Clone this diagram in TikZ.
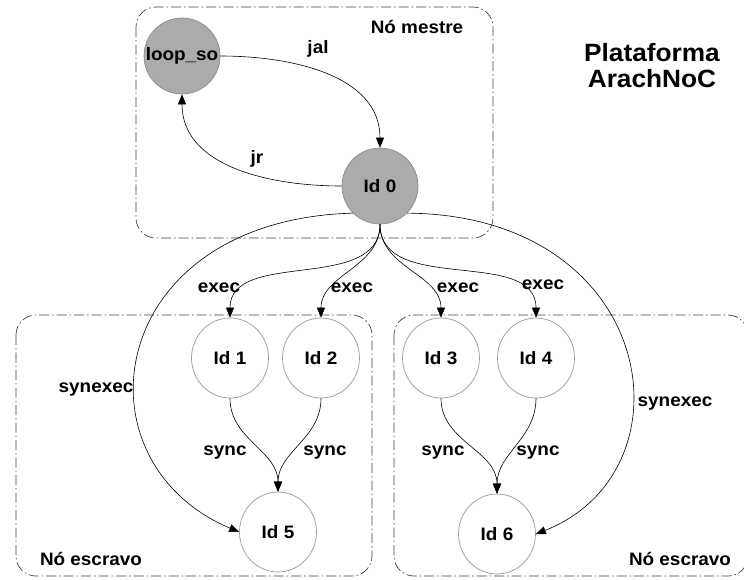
\documentclass[tikz,border=0pt]{standalone}
\usepackage{fontspec}
\setmainfont{Liberation Sans}[FakeStretch=1.05]
\usetikzlibrary{arrows.meta,shapes.geometric}

\tikzset{
  txt/.style={font=\bfseries\fontsize{18}{20}\selectfont},
  lbl/.style={txt, anchor=base, inner sep=0pt},
  master/.style={circle, txt, fill=black!33, draw=black!45, line width=0.7pt,
    minimum size=76pt, inner sep=0pt},
  slave/.style={ellipse, txt, fill=white, draw=black!40, line width=0.7pt,
    minimum width=77pt, minimum height=80pt, inner sep=0pt},
  region/.style={draw=black!75, line width=0.7pt, rounded corners=20pt,
    dash pattern=on 10pt off 3pt on 1.5pt off 3pt},
  link/.style={draw=black, line width=0.6pt, -{Triangle[length=10pt,width=8pt]}},
  title/.style={font=\bfseries\fontsize{25}{26}\selectfont, align=center, inner sep=0pt}
}

\begin{document}
\begin{tikzpicture}[x=1pt,y=1pt]
\useasboundingbox (0,0) rectangle (744,-579);

% node groups
\draw[region] (136,-7) rectangle (493,-238);
\draw[region] (16,-315) rectangle (372,-576);
\draw[region] (394,-315) rectangle (748,-576);

% processes
\node[master] (loop) at (182,-56) {loop\_so};
\node[master] (id0) at (380,-186) {Id 0};
\node[slave] (id1) at (230,-358) {Id 1};
\node[slave] (id2) at (321,-358) {Id 2};
\node[slave] (id3) at (441,-358) {Id 3};
\node[slave] (id4) at (536,-358) {Id 4};
\node[slave] (id5) at (278,-532) {Id 5};
\node[slave] (id6) at (497,-534) {Id 6};

% master loop
\draw[link] (loop.east) to[out=0,in=90] (id0.north);
\draw[link] (id0.west) to[out=180,in=-90] (loop.south);

% exec to slaves
\draw[link] (id0.south) to[out=-90,in=90] (id1.north);
\draw[link] (id0.south) to[out=-90,in=90] (id2.north);
\draw[link] (id0.south) to[out=-90,in=90] (id3.north);
\draw[link] (id0.south) to[out=-90,in=90] (id4.north);

% synchronisation
\draw[link] (id1.south) to[out=-90,in=90] (id5.north);
\draw[link] (id2.south) to[out=-90,in=90] (id5.north);
\draw[link] (id3.south) to[out=-90,in=90] (id6.north);
\draw[link] (id4.south) to[out=-90,in=90] (id6.north);

% synexec
\draw[link] (id0.-135) .. controls +(-248,-7) and +(-168,71) .. (id5.west);
\draw[link] (id0.-45) .. controls +(251,-2) and +(160,63) .. (id6.east);

% labels
\node[lbl] (tmaster) at (417,-33.5) {Nó mestre};
\node[lbl] (tjal) at (318,-53) {jal};
\node[lbl] (tjr) at (257,-163) {jr};
\node[lbl] (te1) at (219,-292) {exec};
\node[lbl] (te2) at (352,-292) {exec};
\node[lbl] (te3) at (458,-292) {exec};
\node[lbl] (te4) at (543,-289) {exec};
\node[lbl] (tsx1) at (96,-392) {synexec};
\node[lbl] (tsx2) at (675,-406) {synexec};
\node[lbl] (ts1) at (225,-455) {sync};
\node[lbl] (ts2) at (325,-455) {sync};
\node[lbl] (ts3) at (443,-455) {sync};
\node[lbl] (ts4) at (538,-455) {sync};
\node[lbl] (tesc1) at (91,-565) {Nó escravo};
\node[lbl] (tesc2) at (680,-565) {Nó escravo};
\node[title] (ttl) at (652,-66) {Plataforma\\ArachNoC};
\end{tikzpicture}
\end{document}
